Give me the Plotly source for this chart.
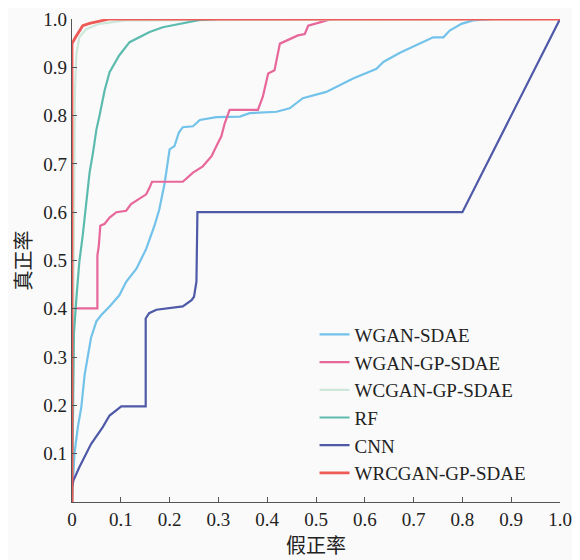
import plotly.graph_objects as go

# ---- data ----
wgan_sdae_x = [0, 0.005, 0.012, 0.019, 0.026, 0.032, 0.039, 0.05, 0.06, 0.077, 0.097, 0.111, 0.132, 0.152, 0.169, 0.179, 0.19, 0.2, 0.21, 0.219, 0.227, 0.248, 0.262, 0.296, 0.344, 0.364, 0.419, 0.446, 0.473, 0.521, 0.576, 0.624, 0.638, 0.672, 0.713, 0.74, 0.761, 0.774, 0.798, 0.822, 0.863, 1.0]
wgan_sdae_y = [0, 0.1, 0.155, 0.196, 0.264, 0.298, 0.34, 0.374, 0.387, 0.405, 0.428, 0.456, 0.483, 0.524, 0.572, 0.606, 0.661, 0.73, 0.737, 0.765, 0.776, 0.778, 0.791, 0.797, 0.798, 0.805, 0.808, 0.815, 0.836, 0.849, 0.877, 0.897, 0.911, 0.93, 0.949, 0.962, 0.962, 0.976, 0.99, 0.997, 1.0, 1.0]

wgan_gp_x = [0, 0, 0.052, 0.052, 0.055, 0.058, 0.067, 0.077, 0.091, 0.111, 0.121, 0.138, 0.152, 0.159, 0.164, 0.227, 0.248, 0.268, 0.286, 0.296, 0.306, 0.313, 0.323, 0.381, 0.391, 0.402, 0.415, 0.426, 0.446, 0.463, 0.477, 0.484, 0.508, 0.532, 1.0]
wgan_gp_y = [0, 0.401, 0.401, 0.51, 0.531, 0.572, 0.576, 0.589, 0.6, 0.603, 0.617, 0.627, 0.637, 0.651, 0.663, 0.663, 0.682, 0.695, 0.716, 0.737, 0.757, 0.784, 0.812, 0.812, 0.839, 0.887, 0.894, 0.949, 0.959, 0.966, 0.969, 0.986, 0.993, 1.0, 1.0]

wcgan_gp_x = [0, 0.003, 0.006, 0.009, 0.015, 0.029, 0.056, 0.111, 1.0]
wcgan_gp_y = [0, 0.5, 0.85, 0.928, 0.962, 0.979, 0.99, 0.997, 1.0]

rf_x = [0, 0.004, 0.009, 0.015, 0.022, 0.029, 0.036, 0.043, 0.05, 0.056, 0.06, 0.067, 0.077, 0.097, 0.118, 0.138, 0.159, 0.186, 0.221, 0.262, 0.3, 1.0]
rf_y = [0, 0.35, 0.422, 0.497, 0.552, 0.62, 0.682, 0.723, 0.771, 0.798, 0.819, 0.853, 0.89, 0.925, 0.952, 0.962, 0.973, 0.983, 0.99, 0.998, 1.0, 1.0]

cnn_x = [0, 0, 0.003, 0.015, 0.039, 0.063, 0.077, 0.101, 0.151, 0.151, 0.158, 0.173, 0.227, 0.245, 0.25, 0.255, 0.257, 0.8, 1.0]
cnn_y = [0, 0.03, 0.045, 0.072, 0.12, 0.155, 0.179, 0.198, 0.198, 0.38, 0.391, 0.398, 0.405, 0.418, 0.425, 0.456, 0.6, 0.6, 1.0]

wrcgan_x = [0, 0, 0.006, 0.012, 0.022, 0.036, 0.077, 1.0]
wrcgan_y = [0, 0.949, 0.96, 0.969, 0.986, 0.991, 1.0, 1.0]

names = ["WGAN-SDAE", "WGAN-GP-SDAE", "WCGAN-GP-SDAE", "RF", "CNN", "WRCGAN-GP-SDAE"]
xs = [wgan_sdae_x, wgan_gp_x, wcgan_gp_x, rf_x, cnn_x, wrcgan_x]
ys = [wgan_sdae_y, wgan_gp_y, wcgan_gp_y, rf_y, cnn_y, wrcgan_y]
colors = ["#72c2ea", "#e8679a", "#cde8da", "#5cbbae", "#4e59a8", "#ee5a55"]
widths = [2.2, 2.2, 2.2, 2.2, 2.2, 2.8]

x_ticks = [0, 0.1, 0.2, 0.3, 0.4, 0.5, 0.6, 0.7, 0.8, 0.9, 1.0]
x_tick_text = ["0", "0.1", "0.2", "0.3", "0.4", "0.5", "0.6", "0.7", "0.8", "0.9", "1.0"]
y_ticks = [0.1, 0.2, 0.3, 0.4, 0.5, 0.6, 0.7, 0.8, 0.9, 1.0]
y_tick_text = ["0.1", "0.2", "0.3", "0.4", "0.5", "0.6", "0.7", "0.8", "0.9", "1.0"]

fig = go.Figure()
for n, x, y, c, w in zip(names, xs, ys, colors, widths):
    fig.add_trace(go.Scatter(x=x, y=y, mode="lines", name=n, legendgroup=n,
                             line=dict(color=c, width=w)))

serif = "Liberation Serif, Times New Roman, serif"
cjk = "Noto Sans CJK SC"
fig.update_layout(
    width=580, height=560,
    margin=dict(l=64, r=28, t=11, b=66, autoexpand=False),
    paper_bgcolor="#fafafa", plot_bgcolor="#fafafa",
    font=dict(family=serif, size=19, color="#222"),
    showlegend=True,
    legend=dict(x=0.497, y=0.386, xanchor="left", yanchor="top",
                bgcolor="rgba(0,0,0,0)", font=dict(family=serif, size=19, color="#222"),
                tracegroupgap=0),
    xaxis=dict(range=[0, 1], tickmode="array", tickvals=x_ticks, ticktext=x_tick_text,
               showgrid=False, zeroline=False, showline=True, linecolor="#555", linewidth=1.2,
               ticks="inside", ticklen=5, tickcolor="#555", ticklabeloverflow="allow",
               tickfont=dict(family=serif, size=19, color="#222"),
               title=dict(text="假正率", font=dict(family=cjk, size=20, color="#222"), standoff=10)),
    yaxis=dict(range=[0, 1], tickmode="array", tickvals=y_ticks, ticktext=y_tick_text,
               showgrid=False, zeroline=False, showline=True, linecolor="#555", linewidth=1.2,
               ticks="inside", ticklen=5, tickcolor="#555", ticklabeloverflow="allow",
               tickfont=dict(family=serif, size=19, color="#222"),
               title=dict(text="真正率", font=dict(family=cjk, size=20, color="#222"), standoff=8)),
)

fig.write_html("out.html")
